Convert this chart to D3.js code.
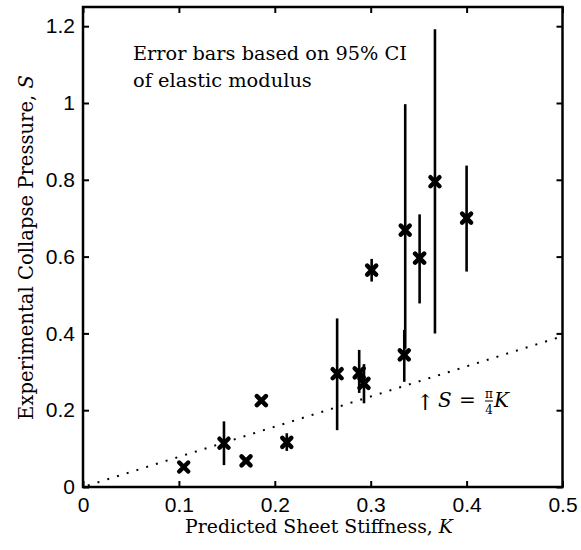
<!DOCTYPE html>
<meta charset="utf-8">
<style>
    body { margin: 0; background: #fff; }
</style>
<svg width="581" height="550"></svg>
<script src="https://cdn.jsdelivr.net/npm/d3@7"></script>
<script>

    // predicted sheet stiffness K
    var stiffness = [0.105, 0.147, 0.170, 0.186, 0.2125, 0.265, 0.288, 0.293, 0.301, 0.335, 0.336, 0.351, 0.367, 0.400];
    // experimental collapse pressure S
    var pressure = [0.052, 0.114, 0.068, 0.225, 0.116, 0.295, 0.297, 0.270, 0.565, 0.344, 0.669, 0.596, 0.795, 0.700];
    // 95% CI bounds
    var ciLow = [0.045, 0.057, 0.062, 0.218, 0.094, 0.148, 0.245, 0.218, 0.535, 0.274, 0.360, 0.478, 0.400, 0.561];
    var ciHigh = [0.060, 0.171, 0.075, 0.232, 0.140, 0.439, 0.357, 0.320, 0.594, 0.409, 0.997, 0.710, 1.192, 0.837];

    var xTicks = [0, 0.1, 0.2, 0.3, 0.4, 0.5];
    var yTicks = [0, 0.2, 0.4, 0.6, 0.8, 1, 1.2];

    var serif = "DejaVu Serif";
    var sans = "Liberation Sans";

    var svg = d3.select("svg");
    var x = d3.scaleLinear().domain([0, 0.5]).range([83, 562.5]);
    var y = d3.scaleLinear().domain([0, 1.25]).range([487, 7]);

    var pts = stiffness.map(function (k, i) {
        return {k: k, s: pressure[i], lo: ciLow[i], hi: ciHigh[i]};
    });

    // theory line S = pi/4 K
    svg.append("line")
        .attr("x1", x(0.005)).attr("y1", y(Math.PI / 4 * 0.005))
        .attr("x2", x(0.5)).attr("y2", y(Math.PI / 4 * 0.5))
        .attr("stroke", "#000")
        .attr("stroke-width", 2)
        .attr("stroke-dasharray", "2,8.2");

    // error bars
    svg.append("g").selectAll("line")
        .data(pts)
        .enter().append("line")
        .attr("x1", function (d) { return x(d.k); })
        .attr("x2", function (d) { return x(d.k); })
        .attr("y1", function (d) { return y(d.lo); })
        .attr("y2", function (d) { return y(d.hi); })
        .attr("stroke", "#000")
        .attr("stroke-width", 2.6);

    // x markers
    var m = 4.5;
    svg.append("g").selectAll("path")
        .data(pts)
        .enter().append("path")
        .attr("d", function (d) {
            var cx = x(d.k), cy = y(d.s);
            return "M" + (cx - m) + "," + (cy - m) + "L" + (cx + m) + "," + (cy + m) +
                "M" + (cx - m) + "," + (cy + m) + "L" + (cx + m) + "," + (cy - m);
        })
        .attr("stroke", "#000")
        .attr("stroke-width", 4.5)
        .attr("stroke-linecap", "round");

    // axes (ticks inward, box)
    var gx = svg.append("g").attr("transform", "translate(0,487)")
        .call(d3.axisBottom(x).tickValues(xTicks).tickSize(-6).tickPadding(10).tickFormat(d3.format("~g")));
    var gy = svg.append("g").attr("transform", "translate(83,0)")
        .call(d3.axisLeft(y).tickValues(yTicks).tickSize(-6).tickPadding(8).tickFormat(d3.format("~g")));
    svg.append("g").attr("transform", "translate(0,7)")
        .call(d3.axisTop(x).tickValues(xTicks).tickSize(-6).tickFormat(""));
    svg.append("g").attr("transform", "translate(562.5,0)")
        .call(d3.axisRight(y).tickValues(yTicks).tickSize(-6).tickFormat(""));
    svg.selectAll(".domain").remove();
    svg.selectAll(".tick line").attr("stroke", "#000").attr("stroke-width", 2);
    svg.selectAll(".tick text")
        .attr("font-family", sans)
        .attr("font-size", 21)
        .attr("fill", "#000");
    gx.selectAll(".tick text").attr("dy", "0.71em");

    svg.append("rect")
        .attr("x", 83).attr("y", 7)
        .attr("width", 562.5 - 83).attr("height", 480)
        .attr("fill", "none")
        .attr("stroke", "#000")
        .attr("stroke-width", 2.5);

    function label(sel, size) {
        return sel.attr("font-family", serif).attr("font-size", size || 19).attr("fill", "#000");
    }
    // shrink/grow the font so the text spans the width seen in the figure
    function fit(sel, width) {
        var w = sel.node().getComputedTextLength();
        var s = +sel.attr("font-size");
        sel.attr("font-size", s * width / w);
        return sel;
    }

    // axis labels
    var xl = label(svg.append("text"), 20)
        .attr("x", 319).attr("y", 533)
        .attr("text-anchor", "middle");
    xl.append("tspan").text("Predicted Sheet Stiffness, ");
    xl.append("tspan").attr("font-style", "italic").text("K");
    fit(xl, 268);

    var yl = label(svg.append("text"), 21)
        .attr("transform", "translate(33,247.5) rotate(-90)")
        .attr("text-anchor", "middle");
    yl.append("tspan").text("Experimental Collapse Pressure, ");
    yl.append("tspan").attr("font-style", "italic").text("S");
    fit(yl, 345);

    // annotations
    fit(label(svg.append("text"))
        .attr("x", 133).attr("y", 60)
        .text("Error bars based on 95% CI"), 274);
    fit(label(svg.append("text"))
        .attr("x", 133).attr("y", 86.7)
        .text("of elastic modulus"), 179);

    label(svg.append("text"), 22).attr("x", 416).attr("y", 410).text("\u2191");
    label(svg.append("text"), 20).attr("x", 438).attr("y", 407).attr("font-style", "italic").text("S");
    label(svg.append("text"), 20).attr("x", 459).attr("y", 407).text("=");
    label(svg.append("text"), 12)
        .attr("x", 489).attr("y", 398).attr("text-anchor", "middle").text("\u03c0");
    svg.append("line").attr("x1", 485).attr("x2", 493).attr("y1", 401).attr("y2", 401)
        .attr("stroke", "#000").attr("stroke-width", 1);
    label(svg.append("text"), 12)
        .attr("x", 489).attr("y", 414).attr("text-anchor", "middle").text("4");
    label(svg.append("text"), 20).attr("font-style", "italic")
        .attr("x", 494).attr("y", 407).text("K");

</script>
